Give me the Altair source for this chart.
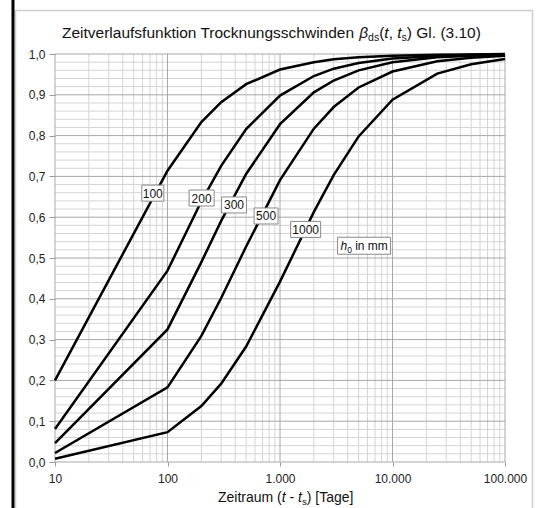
import altair as alt
import pandas as pd

# ---------------- data ----------------
t_days = [10, 100, 200, 300, 500, 1000, 2000, 3000, 5000, 10000, 25000, 50000, 100000]
h0_mm = [100, 200, 300, 500, 1000]
beta_h100 = [0.200, 0.714, 0.833, 0.882, 0.926, 0.962, 0.980, 0.987, 0.992, 0.996, 0.998, 0.999, 1.000]
beta_h200 = [0.081, 0.469, 0.639, 0.726, 0.816, 0.898, 0.946, 0.964, 0.978, 0.989, 0.995, 0.998, 0.999]
beta_h300 = [0.046, 0.325, 0.490, 0.591, 0.706, 0.828, 0.906, 0.935, 0.960, 0.980, 0.992, 0.996, 0.998]
beta_h500 = [0.022, 0.183, 0.309, 0.402, 0.528, 0.691, 0.817, 0.870, 0.918, 0.957, 0.982, 0.991, 0.996]
beta_h1000 = [0.008, 0.073, 0.137, 0.192, 0.283, 0.442, 0.613, 0.703, 0.798, 0.888, 0.952, 0.975, 0.988]
series = [beta_h100, beta_h200, beta_h300, beta_h500, beta_h1000]

# curve labels (anchor in data space)
label_text = ["100", "200", "300", "500", "1000"]
label_t = [74, 201, 390, 752, 1690]
label_beta = [0.659, 0.647, 0.630, 0.603, 0.570]
unit_t, unit_beta = 5590, 0.530

x_tick_values = [10, 100, 1000, 10000, 100000]
y_tick_values = [i / 10 for i in range(11)]

rows = []
for h, vals in zip(h0_mm, series):
    for t, b in zip(t_days, vals):
        rows.append({"h0": h, "t": t, "beta": b})
df = pd.DataFrame(rows)

# ---------------- layout / style ----------------
W, H = 450, 408
FONT = "Liberation Sans"
xscale = alt.Scale(type="log", domain=[10, 100000], nice=False)
yscale = alt.Scale(domain=[0, 1], nice=False, zero=False)

x_axis = alt.Axis(values=x_tick_values, title=None, grid=False, domain=False,
                  tickSize=4, tickColor="#999999", labelFont=FONT, labelFontSize=12,
                  labelColor="#222222", labelPadding=7, labelFlush=False, labelOverlap=False,
                  labelExpr="replace(format(datum.value, ','), ',', '.')")
y_axis = alt.Axis(values=y_tick_values, title=None, grid=False, domain=False,
                  tickSize=6, tickColor="#999999", labelFont=FONT, labelFontSize=12,
                  labelColor="#222222", labelPadding=4, labelFlush=False, labelOverlap=False,
                  labelExpr="replace(format(datum.value, '.1f'), '.', ',')")

X = lambda f: alt.X(f, scale=xscale, axis=x_axis)
Y = lambda f: alt.Y(f, scale=yscale, axis=y_axis)

minor_x = [m * 10 ** e for e in range(1, 5) for m in range(2, 10)]
minor_y = [i / 50 for i in range(51) if i % 5 != 0]

one = pd.DataFrame({"a": [0]})

layers = []
# frame + left black bar
layers.append(alt.Chart(one).mark_rect(fill="transparent", stroke="#cfcfcf", strokeWidth=1.5).encode(
    x=alt.value(-39.5), x2=alt.value(477.5), y=alt.value(-43.5), y2=alt.value(475)))
layers.append(alt.Chart(one).mark_rule(color="black", strokeWidth=3).encode(
    x=alt.value(-42), y=alt.value(-60), y2=alt.value(470)))

# grid
layers.append(alt.Chart(pd.DataFrame({"x": minor_x})).mark_rule(color="#d4d4d4", strokeWidth=1).encode(
    x=X("x:Q"), y=alt.value(0), y2=alt.value(H)))
layers.append(alt.Chart(pd.DataFrame({"y": minor_y})).mark_rule(color="#d4d4d4", strokeWidth=1).encode(
    y=Y("y:Q"), x=alt.value(0), x2=alt.value(W)))
layers.append(alt.Chart(pd.DataFrame({"x": x_tick_values})).mark_rule(color="#a8a8a8", strokeWidth=1).encode(
    x=X("x:Q"), y=alt.value(0), y2=alt.value(H)))
layers.append(alt.Chart(pd.DataFrame({"y": y_tick_values})).mark_rule(color="#a8a8a8", strokeWidth=1).encode(
    y=Y("y:Q"), x=alt.value(0), x2=alt.value(W)))

# curves
layers.append(alt.Chart(df).mark_line(color="black", strokeWidth=2.5).encode(
    x=X("t:Q"), y=Y("beta:Q"), detail="h0:N"))

# label boxes
box_w = {"100": 22, "200": 25, "300": 25, "500": 24, "1000": 30, "unit": 53}
def box_path(w, h=16):
    return f"M{-w/2},{-h/2}H{w/2}V{h/2}H{-w/2}Z"

lab = pd.DataFrame({"label": label_text, "t": label_t, "beta": label_beta})
lab["path"] = [box_path(box_w[s]) for s in label_text]
unit = pd.DataFrame({"t": [unit_t], "beta": [unit_beta], "path": [box_path(box_w["unit"], 17)]})
box_df = pd.concat([lab[["t", "beta", "path"]], unit], ignore_index=True)

layers.append(alt.Chart(box_df).mark_point(filled=True, fill="white", stroke="#8a8a8a", strokeWidth=1,
                                            size=4, opacity=1, fillOpacity=1, strokeOpacity=1).encode(
    x=X("t:Q"), y=Y("beta:Q"), shape=alt.Shape("path:N", scale=None)))
layers.append(alt.Chart(lab).mark_text(font=FONT, fontSize=12, color="#111111", align="center",
                                       baseline="middle", dy=0.5).encode(
    x=X("t:Q"), y=Y("beta:Q"), text="label:N"))

unit_pts = pd.DataFrame({"t": [unit_t], "beta": [unit_beta]})
layers.append(alt.Chart(unit_pts).mark_text(text="h", font=FONT, fontSize=12, fontStyle="italic",
                                            color="#111111", align="left", baseline="middle", dx=-23.5, dy=0.5).encode(
    x=X("t:Q"), y=Y("beta:Q")))
layers.append(alt.Chart(unit_pts).mark_text(text="0", font=FONT, fontSize=8.5, color="#111111",
                                            align="left", baseline="middle", dx=-16.8, dy=4).encode(
    x=X("t:Q"), y=Y("beta:Q")))
layers.append(alt.Chart(unit_pts).mark_text(text="in mm", font=FONT, fontSize=12, color="#111111",
                                            align="left", baseline="middle", dx=-8.9, dy=0.5).encode(
    x=X("t:Q"), y=Y("beta:Q")))

# rich text pieces (title + x title)
CW = {' ': 278, '(': 333, ')': 333, ',': 278, '.': 278, '-': 333, '[': 278, ']': 278,
      'Z': 611, 'T': 611, 'G': 778, 'a': 556, 'c': 500, 'd': 556, 'e': 556, 'f': 278, 'g': 556,
      'h': 556, 'i': 222, 'k': 500, 'l': 222, 'm': 833, 'n': 556, 'o': 556, 'r': 333, 's': 500,
      't': 278, 'u': 556, 'v': 500, 'w': 722, 'β': 573}
for d in "0123456789":
    CW[d] = 556

def text_width(s, size):
    return sum(CW.get(c, 556) for c in s) * size / 1000.0

def rich(pieces, x0, y0):
    out = []
    x = x0
    for txt, size, italic, dy in pieces:
        lead = len(txt) - len(txt.lstrip(" "))
        x += text_width(" " * lead, size)
        body = txt.lstrip(" ")
        if body.strip():
            kw = dict(text=body, font=FONT, fontSize=size, color="#111111", align="left",
                      baseline="alphabetic")
            if italic:
                kw["fontStyle"] = "italic"
            out.append(alt.Chart(one).mark_text(**kw).encode(x=alt.value(x), y=alt.value(y0 + dy)))
        x += text_width(body, size)
    return out

TF, SF = 15.5, 10.5
title_pieces = [("Zeitverlaufsfunktion Trocknungsschwinden ", TF, False, 0), ("β", TF, True, 0),
                ("ds", SF, False, 3), ("(", TF, False, 0), ("t", TF, True, 0), (", ", TF, False, 0),
                ("t", TF, True, 0), ("s", SF, False, 3), (") Gl. (3.10)", TF, False, 0)]
layers += rich(title_pieces, 62 - 55, 38 - 54)

XF, XS = 14, 9.5
xt_pieces = [("Zeitraum (", XF, False, 0), ("t", XF, True, 0), (" - ", XF, False, 0),
             ("t", XF, True, 0), ("s", XS, False, 3), (") [Tage]", XF, False, 0)]
layers += rich(xt_pieces, 218 - 55, 502 - 54)

chart = alt.layer(*layers).properties(
    width=W, height=H,
    autosize=alt.AutoSizeParams(type="none"),
    padding={"left": 55, "top": 54, "right": 33, "bottom": 46},
    background="white",
).configure_view(strokeWidth=0)

chart.save("out.html", embed_options={"renderer": "svg", "actions": False})
